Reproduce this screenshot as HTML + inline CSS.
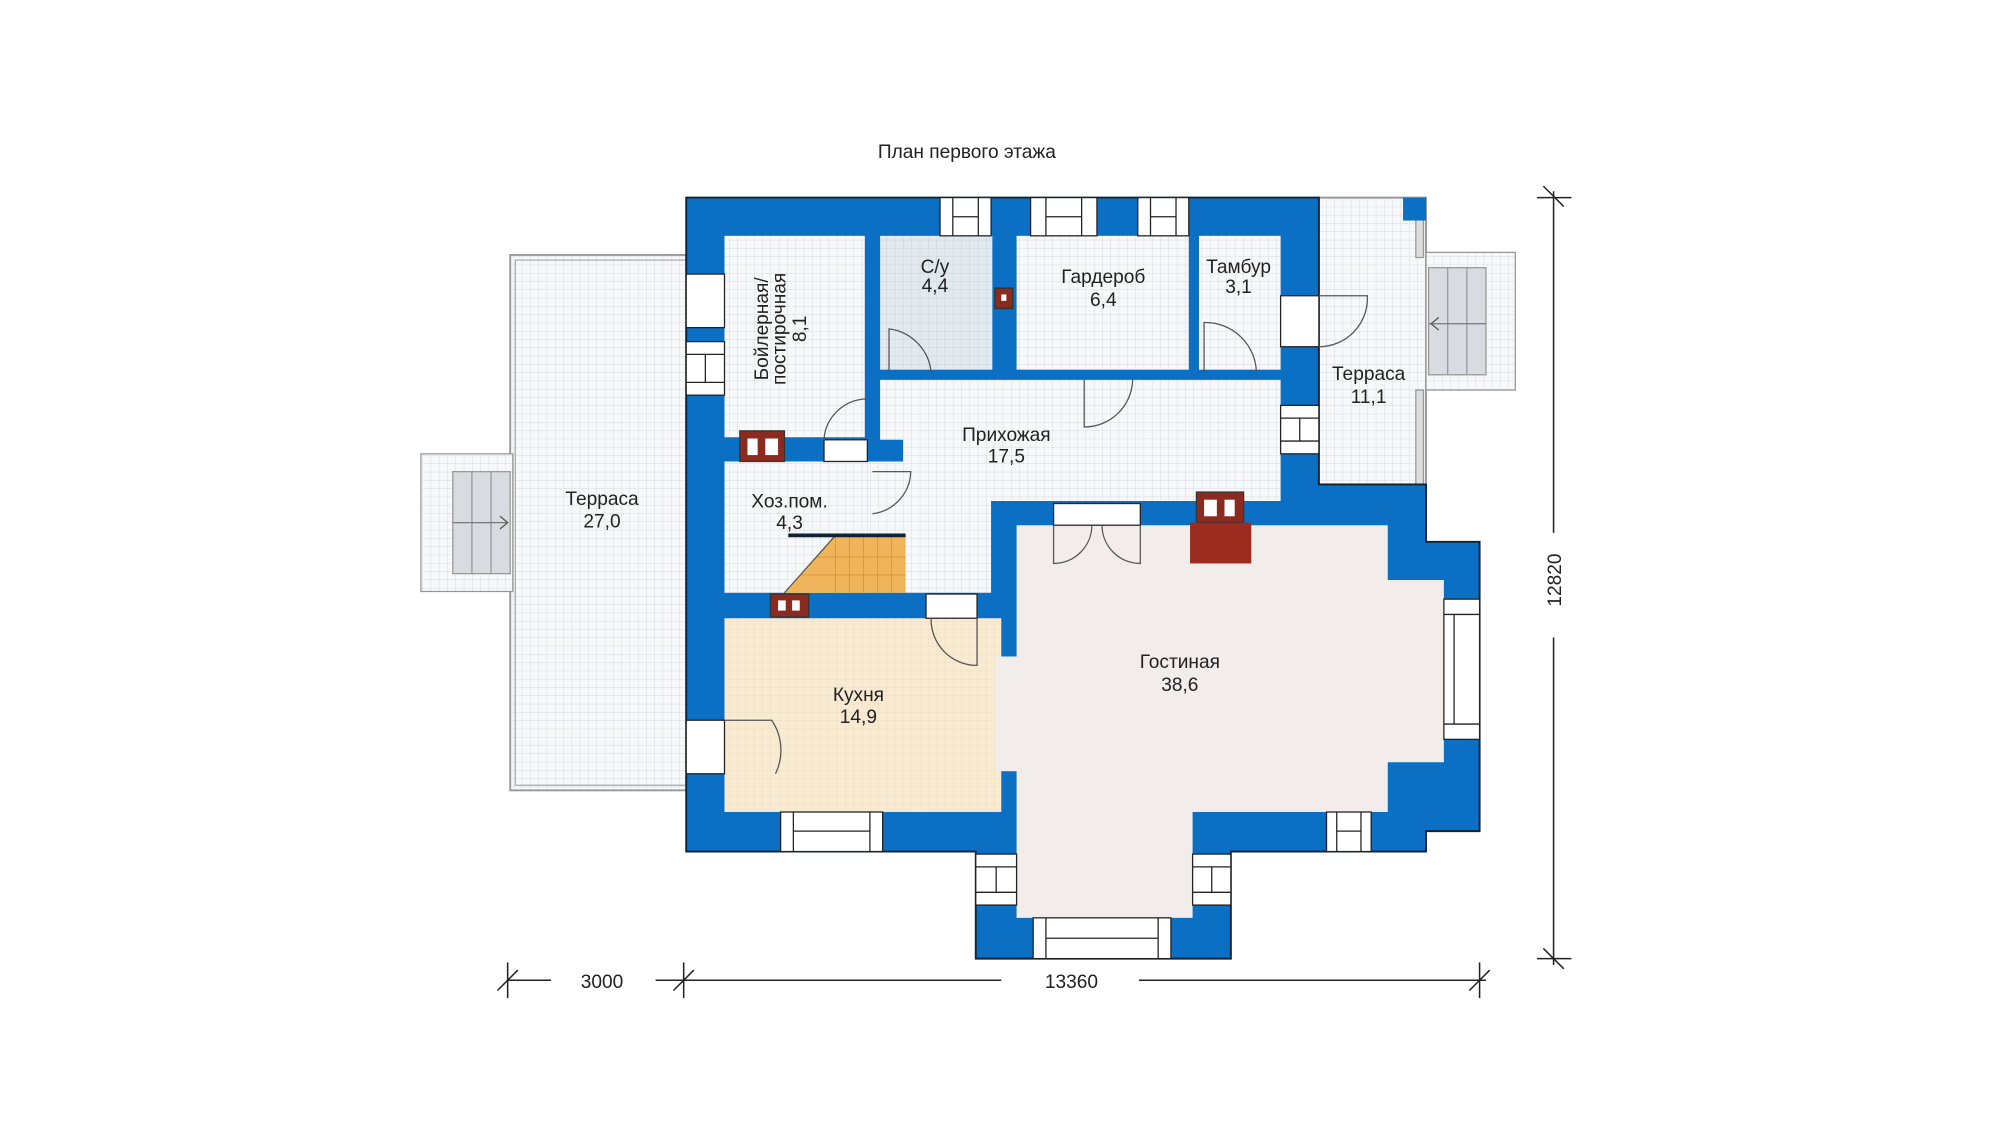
<!DOCTYPE html>
<html><head><meta charset="utf-8"><style>
html,body{margin:0;padding:0;background:#fff;width:2000px;height:1146px;overflow:hidden}
svg{display:block}
text{font-family:"Liberation Sans",sans-serif;fill:#222;font-size:15px;text-anchor:middle}
</style></head><body>
<svg width="2000" height="1146" viewBox="0 0 1568 899" preserveAspectRatio="none" xmlns="http://www.w3.org/2000/svg">
<defs>
<pattern id="g" width="6.5" height="6.5" patternUnits="userSpaceOnUse">
<rect width="6.5" height="6.5" fill="#f7f8f9"/><path d="M6.5 0V6.5H0" fill="none" stroke="#d5dbe2" stroke-width="0.7"/></pattern>
<pattern id="gb" width="6.5" height="6.5" patternUnits="userSpaceOnUse">
<rect width="6.5" height="6.5" fill="#e2e9ef"/><path d="M6.5 0V6.5H0" fill="none" stroke="#c9d3dc" stroke-width="0.7"/></pattern>
<pattern id="gk" width="6.5" height="6.5" patternUnits="userSpaceOnUse">
<rect width="6.5" height="6.5" fill="#f9ead2"/><path d="M6.5 0V6.5H0" fill="none" stroke="#eddcc0" stroke-width="0.7"/></pattern>
</defs>
<rect width="1568" height="899" fill="#fff"/>
<text x="758" y="124" font-size="16">План первого этажа</text>

<!-- left terrace -->
<rect x="400" y="200" width="138" height="420" fill="url(#g)" stroke="#999" stroke-width="1.5"/>
<rect x="404" y="204" width="134" height="412" fill="none" stroke="#aaa" stroke-width="1"/>
<rect x="330" y="356" width="72" height="108" fill="url(#g)" stroke="#999"/>
<rect x="355" y="370" width="45" height="80" fill="#d8dbdf" stroke="#999"/>
<line x1="370" y1="370" x2="370" y2="450" stroke="#999"/><line x1="385" y1="370" x2="385" y2="450" stroke="#999"/>
<line x1="355" y1="410" x2="398" y2="410" stroke="#777"/><path d="M392 405 L398 410 L392 415" fill="none" stroke="#555"/>

<!-- right terrace + stairs -->
<rect x="1034" y="155" width="84" height="225" fill="url(#g)" stroke="#999" stroke-width="1.5"/>
<rect x="1118" y="198" width="70" height="108" fill="url(#g)" stroke="#999"/>
<rect x="1120" y="210" width="45" height="84" fill="#d8dbdf" stroke="#999"/>
<line x1="1135" y1="210" x2="1135" y2="294" stroke="#999"/><line x1="1150" y1="210" x2="1150" y2="294" stroke="#999"/>
<line x1="1120" y1="254" x2="1165" y2="254" stroke="#777"/><path d="M1128 249 L1122 254 L1128 259" fill="none" stroke="#555"/>
<rect x="1110" y="172" width="6" height="30" fill="#ddd" stroke="#999"/>
<rect x="1110" y="306" width="6" height="74" fill="#ddd" stroke="#999"/>
<rect x="1100" y="155" width="18" height="18" fill="#0b6fc3"/>

<!-- building blue -->
<polygon points="538,155 1034,155 1034,380 1118,380 1118,425 1160,425 1160,652 1118,652 1118,668 965,668 965,752 765,752 765,668 538,668" fill="#0b6fc3" stroke="#123" stroke-width="1.5"/>

<!-- rooms -->
<rect x="568" y="185" width="110" height="158" fill="url(#g)"/>
<rect x="690" y="185" width="88" height="105" fill="url(#gb)"/>
<rect x="797" y="185" width="135" height="105" fill="url(#g)"/>
<rect x="940" y="185" width="64" height="105" fill="url(#g)"/>
<polygon points="690,298 1004,298 1004,393 777,393 777,465 680,465 680,362 708,362 708,345 690,345" fill="url(#g)"/>
<rect x="568" y="362" width="112" height="103" fill="url(#g)"/>
<polygon points="615,465 655,420 710,420 710,465" fill="#f0b55a"/>
<path d="M655 420V465M666 420V465M677 420V465M688 420V465M699 420V465M640 437H710M628 451H710" stroke="#d89a3e" stroke-width="0.8"/>
<line x1="615" y1="465" x2="655" y2="420" stroke="#555"/>
<line x1="618" y1="420" x2="710" y2="420" stroke="#123" stroke-width="3"/>
<rect x="568" y="485" width="217" height="152" fill="url(#gk)"/>
<rect x="780" y="515" width="20" height="90" fill="#f2ecea"/>
<polygon points="797,412 1088,412 1088,455 1132,455 1132,598 1088,598 1088,637 935,637 935,720 797,720" fill="#f2ecea"/>

<!-- chimneys -->
<rect x="580" y="338" width="35" height="24" fill="#8b2a1e" stroke="#333"/><rect x="586" y="344" width="8" height="13" fill="#fff"/><rect x="600" y="344" width="10" height="13" fill="#fff"/>
<rect x="604" y="466" width="30" height="18" fill="#8b2a1e" stroke="#333"/><rect x="610" y="471" width="6" height="8" fill="#fff"/><rect x="621" y="471" width="6" height="8" fill="#fff"/>
<rect x="938" y="386" width="37" height="24" fill="#8b2a1e" stroke="#333"/><rect x="944" y="392" width="10" height="13" fill="#fff"/><rect x="960" y="392" width="8" height="13" fill="#fff"/>
<rect x="933" y="410" width="48" height="32" fill="#9b2c1f"/>
<rect x="780" y="226" width="14" height="16" fill="#8b2a1e" stroke="#333"/><rect x="785" y="231" width="4" height="5" fill="#fff"/>

<!-- windows -->
<g fill="#fff" stroke="#222" stroke-width="1">
<rect x="737" y="155" width="40" height="30"/><line x1="747" y1="155" x2="747" y2="185"/><line x1="767" y1="155" x2="767" y2="185"/><line x1="747" y1="170" x2="767" y2="170"/>
<rect x="808" y="155" width="52" height="30"/><line x1="820" y1="155" x2="820" y2="185"/><line x1="848" y1="155" x2="848" y2="185"/><line x1="820" y1="170" x2="848" y2="170"/>
<rect x="892" y="155" width="40" height="30"/><line x1="902" y1="155" x2="902" y2="185"/><line x1="922" y1="155" x2="922" y2="185"/><line x1="902" y1="170" x2="922" y2="170"/>
<rect x="538" y="215" width="30" height="42"/>
<rect x="538" y="268" width="30" height="42"/><line x1="538" y1="278" x2="568" y2="278"/><line x1="538" y1="300" x2="568" y2="300"/><line x1="553" y1="278" x2="553" y2="300"/>
<rect x="538" y="565" width="30" height="42"/>
<rect x="612" y="637" width="80" height="31"/><line x1="622" y1="637" x2="622" y2="668"/><line x1="682" y1="637" x2="682" y2="668"/><line x1="622" y1="652" x2="682" y2="652"/>
<rect x="1040" y="637" width="35" height="31"/><line x1="1048" y1="637" x2="1048" y2="668"/><line x1="1067" y1="637" x2="1067" y2="668"/><line x1="1048" y1="652" x2="1067" y2="652"/>
<rect x="810" y="720" width="108" height="32"/><line x1="820" y1="720" x2="820" y2="752"/><line x1="908" y1="720" x2="908" y2="752"/><line x1="820" y1="736" x2="908" y2="736"/>
<rect x="765" y="670" width="32" height="40"/><line x1="765" y1="680" x2="797" y2="680"/><line x1="765" y1="700" x2="797" y2="700"/><line x1="781" y1="680" x2="781" y2="700"/>
<rect x="935" y="670" width="30" height="40"/><line x1="935" y1="680" x2="965" y2="680"/><line x1="935" y1="700" x2="965" y2="700"/><line x1="950" y1="680" x2="950" y2="700"/>
<rect x="1132" y="470" width="28" height="110"/><line x1="1132" y1="482" x2="1160" y2="482"/><line x1="1132" y1="568" x2="1160" y2="568"/><line x1="1140" y1="482" x2="1140" y2="568"/>
<rect x="1004" y="232" width="30" height="40"/>
<rect x="1004" y="318" width="30" height="38"/><line x1="1004" y1="328" x2="1034" y2="328"/><line x1="1004" y1="346" x2="1034" y2="346"/><line x1="1019" y1="328" x2="1019" y2="346"/>
<rect x="826" y="395" width="68" height="17"/>
<rect x="726" y="466" width="40" height="19"/>
<rect x="646" y="345" width="34" height="17"/>
</g>

<!-- doors -->
<g fill="none" stroke="#555" stroke-width="1">
<path d="M697 292V258A38 38 0 0 1 730 292"/>
<path d="M944 292V253A40 40 0 0 1 985 292"/>
<path d="M1034 232H1072A38 38 0 0 1 1034 272"/>
<path d="M850 298V335A38 38 0 0 0 888 298"/>
<path d="M646 345A34 34 0 0 1 680 313"/>
<path d="M684 370H714A34 34 0 0 1 684 403"/>
<path d="M766 485V522A36 36 0 0 1 730 485"/>
<path d="M568 565H605A42 42 0 0 1 608 607"/>
<path d="M826 412V442A30 30 0 0 0 856 412M894 412V442A30 30 0 0 1 864 412"/>
</g>

<!-- labels -->
<g transform="translate(602,258) rotate(-90)"><text x="0" y="0">Бойлерная/</text><text x="0" y="14">постирочная</text><text x="0" y="30">8,1</text></g>
<text x="733" y="214">С/у</text><text x="733" y="229">4,4</text>
<text x="865" y="222">Гардероб</text><text x="865" y="240">6,4</text>
<text x="971" y="214">Тамбур</text><text x="971" y="230">3,1</text>
<text x="1073" y="298">Терраса</text><text x="1073" y="316">11,1</text>
<text x="789" y="346">Прихожая</text><text x="789" y="363">17,5</text>
<text x="619" y="398">Хоз.пом.</text><text x="619" y="415">4,3</text>
<text x="472" y="396">Терраса</text><text x="472" y="414">27,0</text>
<text x="925" y="524">Гостиная</text><text x="925" y="542">38,6</text>
<text x="673" y="550">Кухня</text><text x="673" y="567">14,9</text>

<!-- dimensions -->
<g stroke="#222" stroke-width="1.2" fill="none">
<line x1="1218" y1="150" x2="1218" y2="418"/><line x1="1218" y1="500" x2="1218" y2="757"/>
<line x1="1205" y1="155" x2="1232" y2="155"/><line x1="1205" y1="752" x2="1232" y2="752"/>
<line x1="1210" y1="146" x2="1226" y2="162"/><line x1="1210" y1="744" x2="1226" y2="760"/>
<line x1="398" y1="769" x2="432" y2="769"/><line x1="514" y1="769" x2="536" y2="769"/>
<line x1="536" y1="769" x2="785" y2="769"/><line x1="893" y1="769" x2="1165" y2="769"/>
<line x1="398" y1="755" x2="398" y2="783"/><line x1="536" y1="755" x2="536" y2="783"/><line x1="1160" y1="755" x2="1160" y2="783"/>
<line x1="390" y1="777" x2="406" y2="761"/><line x1="528" y1="777" x2="544" y2="761"/><line x1="1152" y1="777" x2="1168" y2="761"/>
</g>
<text x="472" y="775">3000</text>
<text x="840" y="775">13360</text>
<text transform="translate(1224,455) rotate(-90)" x="0" y="0">12820</text>
</svg>
</body></html>
